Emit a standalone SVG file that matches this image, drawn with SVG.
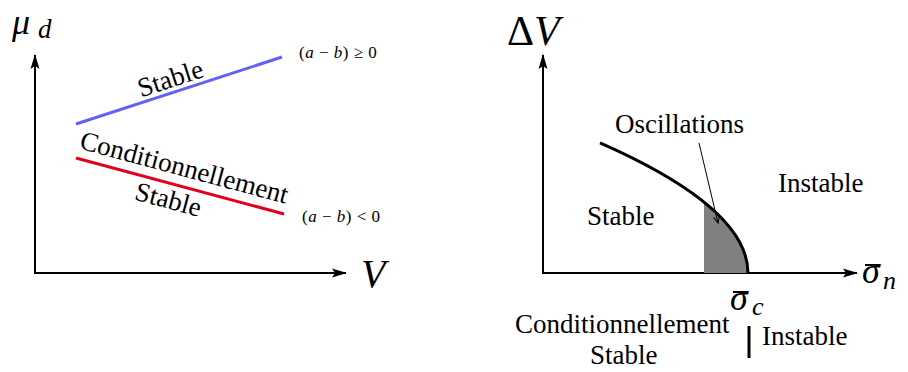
<svg xmlns="http://www.w3.org/2000/svg" width="908" height="372" viewBox="0 0 908 372">
<style>
.lbl{font-size:27px}
.small{font-size:17px;letter-spacing:0.5px}
.ax{stroke:#000;stroke-width:2;fill:none}
</style>
<defs>
<marker id="ah" viewBox="0 0 16 10" refX="14" refY="5" markerWidth="16" markerHeight="10" markerUnits="userSpaceOnUse" orient="auto">
<path d="M0,0.5 L15,5 L0,9.5 L3,5 Z" fill="#000"/>
</marker>
<marker id="sa" viewBox="0 0 8 8" refX="7" refY="4" markerWidth="8" markerHeight="8" markerUnits="userSpaceOnUse" orient="auto">
<path d="M0.5,1 L7,4 L0.5,7" fill="none" stroke="#000" stroke-width="1"/>
</marker>
</defs>
<rect width="908" height="372" fill="#fff"/>
<g id="connectors">
<line class="ax" x1="35" y1="273" x2="35" y2="55" marker-end="url(#ah)"/>
<line class="ax" x1="34" y1="273" x2="346" y2="273" marker-end="url(#ah)"/>
<line x1="76" y1="124" x2="282" y2="57" stroke="#6262f7" stroke-width="3"/>
<line x1="76" y1="158" x2="284" y2="214" stroke="#e2001a" stroke-width="3"/>
<line class="ax" x1="543" y1="273" x2="543" y2="55" marker-end="url(#ah)"/>
<line class="ax" x1="542" y1="273" x2="857" y2="273" marker-end="url(#ah)"/>
<path d="M704,273 L704,202 Q748,237.5 748,273 Z" fill="#808080"/>
<path d="M600,142.8 Q748,207.9 748,273" fill="none" stroke="#000" stroke-width="3"/>
<line x1="699" y1="143" x2="718" y2="223" stroke="#000" stroke-width="1" marker-end="url(#sa)"/>
<line x1="749" y1="326" x2="749" y2="358" stroke="#000" stroke-width="3"/>
</g>
<g id="left-labels" font-family="'Liberation Serif', 'DejaVu Serif', serif">
<text x="12" y="34" font-size="36" font-style="italic">μ</text>
<text x="38" y="38" font-size="27" font-style="italic">d</text>
<text x="361" y="287" font-size="40" font-style="italic">V</text>
<text class="lbl" text-anchor="middle" transform="translate(173,87) rotate(-18)">Stable</text>
<text class="lbl" text-anchor="middle" transform="translate(182,176) rotate(15)">Conditionnellement</text>
<text class="lbl" text-anchor="middle" transform="translate(166,208) rotate(15)">Stable</text>
<text class="small" x="299" y="58">(<tspan font-style="italic">a</tspan> − <tspan font-style="italic">b</tspan>) ≥ 0</text>
<text class="small" x="302" y="222">(<tspan font-style="italic">a</tspan> − <tspan font-style="italic">b</tspan>) &lt; 0</text>
</g>
<g id="right-labels" font-family="'Liberation Serif', 'DejaVu Serif', serif">
<text x="507" y="45" font-size="42">Δ<tspan font-style="italic">V</tspan></text>
<text x="862" y="283" font-size="36" font-style="italic">σ</text>
<line x1="865" y1="265" x2="880" y2="265" stroke="#000" stroke-width="2"/>
<text x="883" y="289" font-size="26" font-style="italic">n</text>
<text x="730" y="310" font-size="36" font-style="italic">σ</text>
<line x1="733" y1="292" x2="748" y2="292" stroke="#000" stroke-width="2"/>
<text x="752" y="315" font-size="26" font-style="italic">c</text>
<text class="lbl" x="615" y="133">Oscillations</text>
<text class="lbl" x="778" y="192">Instable</text>
<text class="lbl" x="587" y="225">Stable</text>
<text class="lbl" x="515" y="333">Conditionnellement</text>
<text class="lbl" x="590" y="364">Stable</text>
<text class="lbl" x="762" y="345">Instable</text>
</g>
</svg>
